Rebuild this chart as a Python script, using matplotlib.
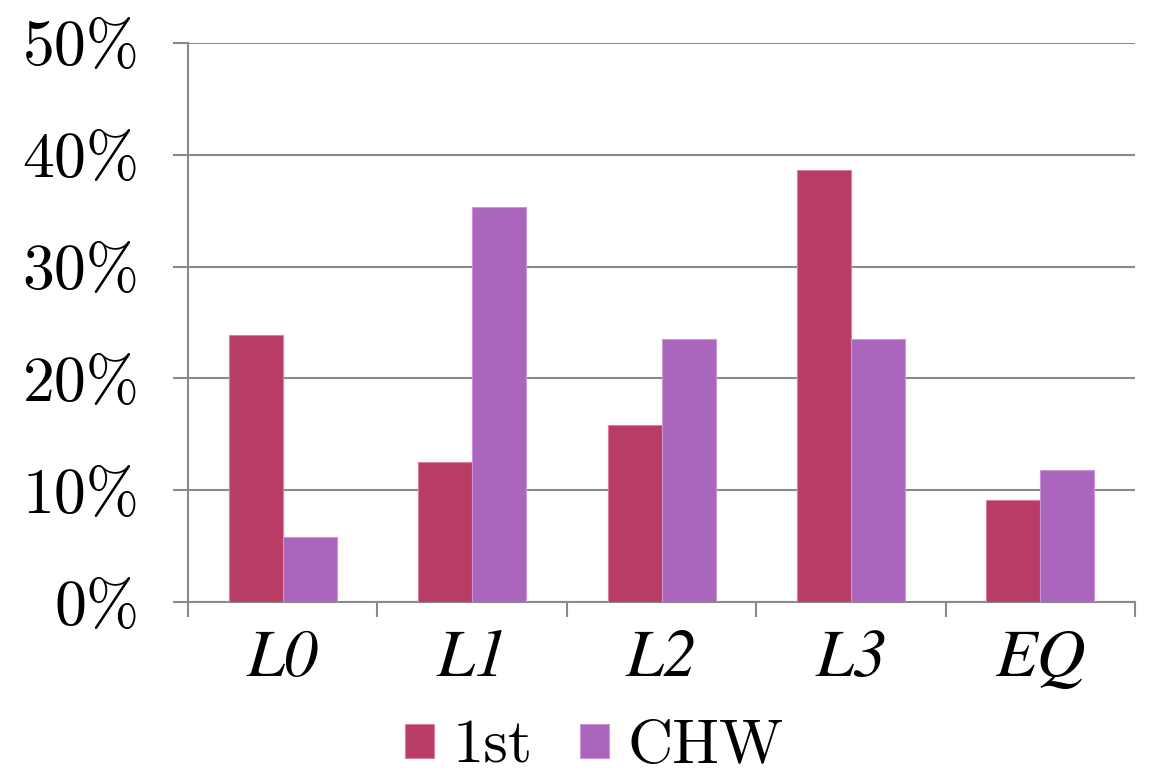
import numpy as np
import matplotlib
matplotlib.use("Agg")
import matplotlib.pyplot as plt
from matplotlib.ticker import FuncFormatter

categories = ["L0", "L1", "L2", "L3", "EQ"]
first = [23.9, 12.5, 15.8, 38.6, 9.1]
chw = [5.8, 35.3, 23.5, 23.5, 11.8]
series_names = ["1st", "CHW"]

plt.rcParams["font.family"] = ["cmr10", "DejaVu Serif"]
plt.rcParams["axes.unicode_minus"] = False

fig = plt.figure(figsize=(11.5, 7.76), dpi=100)
ax = fig.add_axes([0.1635, 0.2242, 0.8235, 0.7204])

x = np.arange(len(categories))
w = 0.285
ax.bar(x - w / 2, first, w, color="#b83c64", edgecolor="#d9809c", linewidth=0.8, zorder=3, label=series_names[0])
ax.bar(x + w / 2, chw, w, color="#aa66bc", edgecolor="#c996d6", linewidth=0.8, zorder=3, label=series_names[1])

ax.set_xlim(-0.5, len(categories) - 0.5)
ax.set_ylim(0, 50)
ax.set_yticks(np.arange(0, 51, 10))
ax.yaxis.set_major_formatter(FuncFormatter(lambda v, p: "%d%%" % v))
ax.grid(axis="y", color="#8a8a8a", linewidth=1.5, zorder=0)

gray = "#8a8a8a"
for s in ["top", "right"]:
    ax.spines[s].set_visible(False)
for s in ["left", "bottom"]:
    ax.spines[s].set_color(gray)
    ax.spines[s].set_linewidth(1.5)

# category boundaries carry the tick marks, labels sit at the centres
ax.set_xticks(np.arange(-0.5, len(categories)), minor=False)
ax.set_xticklabels([])
ax.set_xticks(x, minor=True)
ax.set_xticklabels(categories, minor=True, fontfamily="STIXGeneral", style="italic", fontsize=49)
ax.tick_params(axis="x", which="major", length=11, width=1.5, color=gray)
ax.tick_params(axis="x", which="minor", length=0, pad=20)
ax.tick_params(axis="y", length=11, width=1.5, color=gray, pad=24, labelsize=46)

fig.legend(loc="center", bbox_to_anchor=(0.517, 0.037), ncol=2, frameon=False,
           fontsize=45, handlelength=0.46, handleheight=0.46, handletextpad=0.3,
           columnspacing=0.75, borderpad=0)

fig.savefig("out.png", dpi=100)
